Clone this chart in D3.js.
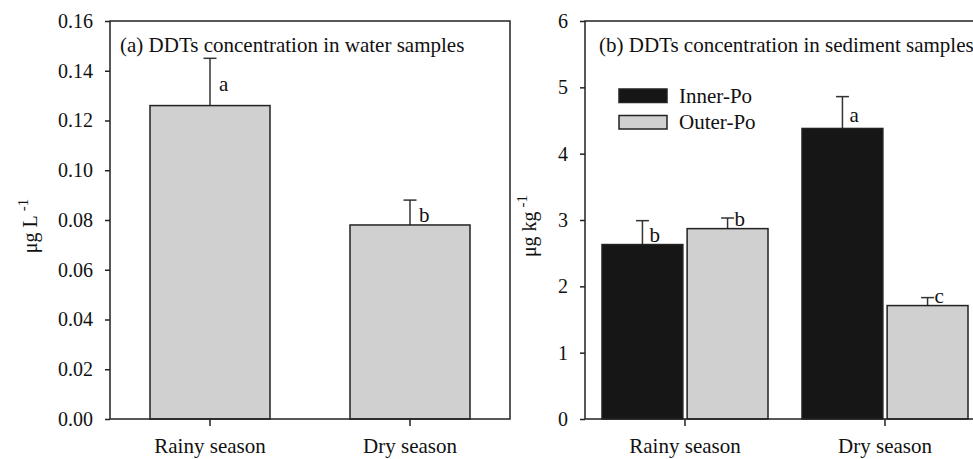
<!DOCTYPE html>
<html>
<head>
<meta charset="utf-8">
<script src="https://cdn.jsdelivr.net/npm/d3@7"></script>
<style>
  body { margin: 0; background: #fff; }
  svg { display: block; font-family: "Liberation Serif", "Times New Roman", serif; }
  .tick text { font-size: 20px; fill: #111; font-family: "Liberation Serif", "Times New Roman", serif; }
  .xax .tick text { font-size: 21px; }
</style>
</head>
<body>
<svg id="chart"></svg>
<script>
/**
 * Data
 */
const seasons = ["Rainy season", "Dry season"];

// (a) water
const waterMean = [0.126, 0.078];
const waterErr = [0.019, 0.010];
const waterLetters = ["a", "b"];
const waterTicks = [0, 0.02, 0.04, 0.06, 0.08, 0.10, 0.12, 0.14, 0.16];

// (b) sediment
const sites = ["Inner-Po", "Outer-Po"];
const innerMean = [2.63, 4.38];
const innerErr = [0.36, 0.48];
const innerLetters = ["b", "a"];
const outerMean = [2.87, 1.71];
const outerErr = [0.16, 0.12];
const outerLetters = ["b", "c"];
const sedTicks = [0, 1, 2, 3, 4, 5, 6];

/**
 * Layout
 */
const width = 973;
const height = 459;
const plotTop = 21, plotBottom = 419;
const stroke = "#222";
const grey = "#d0d0d0";
const black = "#161616";
const serif = '"Liberation Serif", "Times New Roman", serif';
const siteColors = { "Inner-Po": black, "Outer-Po": grey };

const svg = d3.select("#chart").attr("width", width).attr("height", height);

// label above each bar: a little right of the error bar
let letterY = (y, m, e) => Math.min(y(m) - 3, (y(m) + y(m + e)) / 2 + 9);

function drawPanel(opts) {
  const x = d3.scaleBand().domain(seasons)
              .range([opts.left, opts.left + 400])
              .paddingInner(opts.pin).paddingOuter(opts.pout);
  const y = d3.scaleLinear().domain(opts.domain).range([plotBottom, plotTop]);

  const g = svg.append("g");

  // y axis
  g.append("g")
   .attr("transform", "translate(" + opts.left + ",0)")
   .call(d3.axisLeft(y).tickValues(opts.ticks).tickFormat(opts.fmt).tickSize(5).tickPadding(12))
   .attr("font-family", serif).attr("font-size", 20)
   .call(a => a.select(".domain").remove())
   .call(a => a.selectAll(".tick line").attr("stroke", stroke).attr("stroke-width", 1.5));

  // x axis
  g.append("g")
   .attr("class", "xax")
   .attr("transform", "translate(0," + plotBottom + ")")
   .call(d3.axisBottom(x).tickSize(7).tickPadding(12))
   .attr("font-family", serif).attr("font-size", 21)
   .call(a => a.select(".domain").remove())
   .call(a => a.selectAll(".tick line").attr("stroke", stroke).attr("stroke-width", 1.5));

  return { x, y, g };
}

/**
 * Panel (a)
 */
const pa = drawPanel({ left: 110, domain: [0, 0.16], ticks: waterTicks, fmt: d3.format(".2f"), pin: 0.4, pout: 0.2 });

const waterData = seasons.map((s, i) => ({ s, m: waterMean[i], e: waterErr[i], l: waterLetters[i] }));

pa.g.selectAll("line.err")
  .data(waterData).enter()
  .append("line").attr("class", "err")
  .attr("x1", d => pa.x(d.s) + pa.x.bandwidth() / 2)
  .attr("x2", d => pa.x(d.s) + pa.x.bandwidth() / 2)
  .attr("y1", d => pa.y(d.m))
  .attr("y2", d => pa.y(d.m + d.e))
  .attr("stroke", "#333").attr("stroke-width", 1.5);

pa.g.selectAll("line.cap")
  .data(waterData).enter()
  .append("line").attr("class", "cap")
  .attr("x1", d => pa.x(d.s) + pa.x.bandwidth() / 2 - 6.5)
  .attr("x2", d => pa.x(d.s) + pa.x.bandwidth() / 2 + 6.5)
  .attr("y1", d => pa.y(d.m + d.e))
  .attr("y2", d => pa.y(d.m + d.e))
  .attr("stroke", "#333").attr("stroke-width", 1.5);

pa.g.selectAll("rect.bar")
  .data(waterData).enter()
  .append("rect").attr("class", "bar")
  .attr("x", d => pa.x(d.s))
  .attr("width", pa.x.bandwidth())
  .attr("y", d => pa.y(d.m))
  .attr("height", d => pa.y(0) - pa.y(d.m))
  .attr("fill", grey).attr("stroke", stroke).attr("stroke-width", 1.5);

pa.g.selectAll("text.letter")
  .data(waterData).enter()
  .append("text").attr("class", "letter")
  .attr("x", d => pa.x(d.s) + pa.x.bandwidth() / 2 + 9)
  .attr("y", d => letterY(pa.y, d.m, d.e))
  .attr("font-size", 21).attr("fill", "#111")
  .text(d => d.l);

/**
 * Panel (b)
 */
const pb = drawPanel({ left: 585, domain: [0, 6], ticks: sedTicks, fmt: d3.format("d"), pin: 0.17, pout: 0.085 });

const xSite = d3.scaleBand().domain(sites).range([0, pb.x.bandwidth()]).paddingInner(0.05);

const sedData = [];
seasons.forEach((s, i) => {
  sedData.push({ s, site: sites[0], m: innerMean[i], e: innerErr[i], l: innerLetters[i] });
  sedData.push({ s, site: sites[1], m: outerMean[i], e: outerErr[i], l: outerLetters[i] });
});

let cx = d => pb.x(d.s) + xSite(d.site) + xSite.bandwidth() / 2;

pb.g.selectAll("line.err")
  .data(sedData).enter()
  .append("line").attr("class", "err")
  .attr("x1", cx).attr("x2", cx)
  .attr("y1", d => pb.y(d.m))
  .attr("y2", d => pb.y(d.m + d.e))
  .attr("stroke", "#333").attr("stroke-width", 1.5);

pb.g.selectAll("line.cap")
  .data(sedData).enter()
  .append("line").attr("class", "cap")
  .attr("x1", d => cx(d) - 6.5)
  .attr("x2", d => cx(d) + 6.5)
  .attr("y1", d => pb.y(d.m + d.e))
  .attr("y2", d => pb.y(d.m + d.e))
  .attr("stroke", "#333").attr("stroke-width", 1.5);

pb.g.selectAll("rect.bar")
  .data(sedData).enter()
  .append("rect").attr("class", "bar")
  .attr("x", d => pb.x(d.s) + xSite(d.site))
  .attr("width", xSite.bandwidth())
  .attr("y", d => pb.y(d.m))
  .attr("height", d => pb.y(0) - pb.y(d.m))
  .attr("fill", d => siteColors[d.site]).attr("stroke", stroke).attr("stroke-width", 1.5);

pb.g.selectAll("text.letter")
  .data(sedData).enter()
  .append("text").attr("class", "letter")
  .attr("x", d => cx(d) + 7)
  .attr("y", d => letterY(pb.y, d.m, d.e))
  .attr("font-size", 21).attr("fill", "#111")
  .text(d => d.l);

/**
 * Frames, titles, axis titles
 */
[110, 585].forEach(l => {
  svg.append("rect")
     .attr("x", l).attr("y", plotTop)
     .attr("width", 400).attr("height", plotBottom - plotTop)
     .attr("fill", "none").attr("stroke", stroke).attr("stroke-width", 1.5);
});

svg.append("text").attr("x", 120).attr("y", 52).attr("font-size", 21).attr("fill", "#111")
   .text("(a) DDTs concentration in water samples");
svg.append("text").attr("x", 599).attr("y", 52).attr("font-size", 21).attr("fill", "#111")
   .text("(b) DDTs concentration in sediment samples");

let yTitle = (xPos, unit) => {
  const t = svg.append("text")
     .attr("transform", "translate(" + xPos + "," + ((plotTop + plotBottom) / 2 + 6) + ") rotate(-90)")
     .attr("text-anchor", "middle")
     .attr("font-size", 20).attr("fill", "#111");
  t.append("tspan").text("μg " + unit);
  t.append("tspan").attr("dx", 4).attr("dy", -9).attr("font-size", 15).text("-1");
};
yTitle(37, "L");
yTitle(536, "kg");

// legend
const legend = svg.append("g").attr("transform", "translate(619,89)");
sites.forEach((s, i) => {
  legend.append("rect")
        .attr("x", 0).attr("y", i * 26.5)
        .attr("width", 48).attr("height", 13.5)
        .attr("fill", siteColors[s]).attr("stroke", stroke).attr("stroke-width", 1.5);
  legend.append("text")
        .attr("x", 60).attr("y", i * 26.5 + 13.5)
        .attr("font-size", 21).attr("fill", "#111")
        .text(s);
});
</script>
</body>
</html>
